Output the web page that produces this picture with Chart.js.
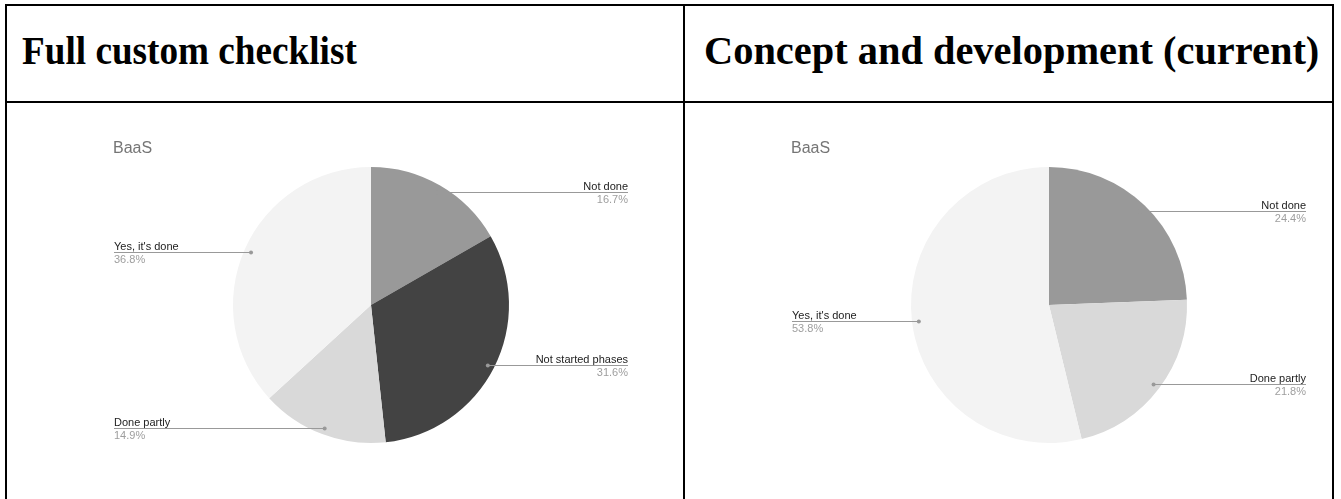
<!DOCTYPE html>
<html>
<head>
<meta charset="utf-8">
<script src="https://cdn.jsdelivr.net/npm/chart.js@4.4.0/dist/chart.umd.min.js"></script>
<style>
    html, body { margin: 0; padding: 0; background: #fff; overflow: hidden; }
    body { width: 1341px; height: 499px; position: relative; }
    .frame { position: absolute; left: 5px; top: 4px; width: 1325px; height: 600px; border: 2px solid #000; }
    .hline { position: absolute; left: 5px; top: 101px; width: 1329px; height: 2px; background: #000; }
    .vline { position: absolute; left: 683px; top: 4px; width: 2px; height: 600px; background: #000; }
    .head { position: absolute; top: 31px; font-family: "Liberation Serif", "Times New Roman", serif;
            font-weight: bold; font-size: 40px; line-height: 40px; color: #000; white-space: nowrap;
            transform-origin: 0 50%; }
    .cell { position: absolute; top: 103px; height: 396px; }
</style>
</head>
<body>
<div class="frame"></div>
<div class="hline"></div>
<div class="vline"></div>
<div class="head" style="left: 22px; transform: scaleX(0.93);">Full custom checklist</div>
<div class="head" style="left: 704px; transform: scaleX(1.01);">Concept and development (current)</div>
<div class="cell" style="left: 7px; width: 676px;"><canvas id="chartFull"></canvas></div>
<div class="cell" style="left: 685px; width: 646px;"><canvas id="chartConcept"></canvas></div>

<script>
// Full custom checklist
const fullLabels = ['Not done', 'Not started phases', 'Done partly', "Yes, it's done"];
const fullValues = [16.7, 31.6, 14.9, 36.8];
const fullColors = ['#999999', '#434343', '#d9d9d9', '#f3f3f3'];

// Concept and development (current)
const conceptLabels = ['Not done', 'Done partly', "Yes, it's done"];
const conceptValues = [24.4, 21.8, 53.8];
const conceptColors = ['#999999', '#d9d9d9', '#f3f3f3'];

const chartTitle = 'BaaS';

/**
 * Google-Sheets style leader labels:
 * dot inside the slice, horizontal line out to the label column
 */
const leaderLabels = {
    id: 'leaderLabels',
    afterDraw(chart, args, opts) {
        const ctx = chart.ctx;
        const meta = chart.getDatasetMeta(0);
        const values = chart.data.datasets[0].data;
        const total = values.reduce((a, b) => a + b, 0);

        ctx.save();
        meta.data.forEach((arc, i) => {
            const mid = (arc.startAngle + arc.endAngle) / 2;
            const r = arc.outerRadius * 0.95;
            const px = arc.x + Math.cos(mid) * r;
            const py = Math.round(arc.y + Math.sin(mid) * r) + 0.5;
            const right = px > arc.x;
            const endX = right ? opts.rightX : opts.leftX;

            ctx.strokeStyle = '#999999';
            ctx.fillStyle = '#999999';
            ctx.lineWidth = 1;
            ctx.beginPath();
            ctx.moveTo(px, py);
            ctx.lineTo(endX, py);
            ctx.stroke();
            ctx.beginPath();
            ctx.arc(px, py, 2, 0, Math.PI * 2);
            ctx.fill();

            ctx.textAlign = right ? 'right' : 'left';
            ctx.textBaseline = 'alphabetic';
            ctx.font = '11px "Liberation Sans", Arial, sans-serif';
            ctx.fillStyle = '#222222';
            ctx.fillText(chart.data.labels[i], endX, py - 3);
            ctx.fillStyle = '#9e9e9e';
            ctx.fillText((values[i] / total * 100).toFixed(1) + '%', endX, py + 10);
        });

        // chart title
        ctx.textAlign = 'left';
        ctx.font = '16px "Liberation Sans", Arial, sans-serif';
        ctx.fillStyle = '#757575';
        ctx.fillText(opts.title, opts.leftX - 1, 50);
        ctx.restore();
    }
};

function makePie(canvasId, labels, values, colors, width) {
    const canvas = document.getElementById(canvasId);
    const pieLeft = 226;
    const pieTop = 64;
    const pieSize = 276;
    return new Chart(canvas, {
        type: 'pie',
        data: {
            labels: labels,
            datasets: [{
                data: values,
                backgroundColor: colors,
                borderWidth: 0
            }]
        },
        options: {
            responsive: true,
            maintainAspectRatio: false,
            animation: false,
            events: [],
            layout: {
                padding: {
                    left: pieLeft,
                    top: pieTop,
                    right: width - pieLeft - pieSize,
                    bottom: 396 - pieTop - pieSize
                }
            },
            plugins: {
                legend: { display: false },
                tooltip: { enabled: false },
                leaderLabels: {
                    leftX: 107,
                    rightX: 621,
                    title: chartTitle
                }
            }
        },
        plugins: [leaderLabels]
    });
}

makePie('chartFull', fullLabels, fullValues, fullColors, 676);
makePie('chartConcept', conceptLabels, conceptValues, conceptColors, 646);
</script>
</body>
</html>
